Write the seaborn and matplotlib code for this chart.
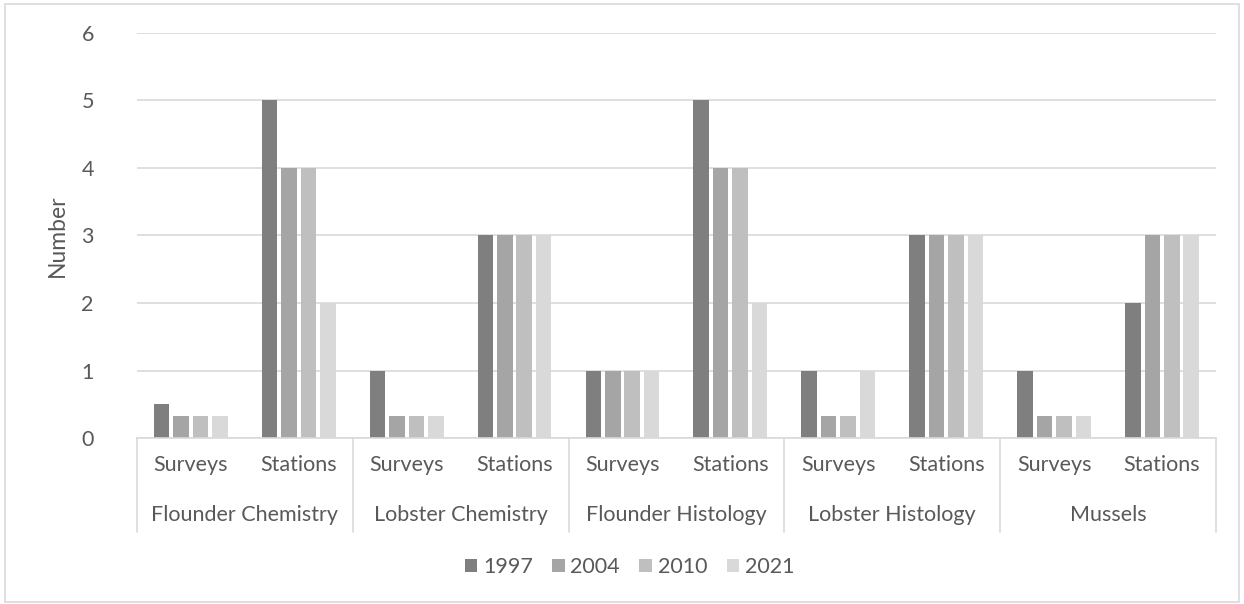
import matplotlib
matplotlib.use("Agg")
import matplotlib.pyplot as plt
import matplotlib.transforms as mtransforms
import seaborn as sns
import pandas as pd

# Monitoring programme groups, each split into surveys and stations
groups = ["Flounder Chemistry", "Lobster Chemistry", "Flounder Histology",
          "Lobster Histology", "Mussels"]
subcats = ["Surveys", "Stations"]
years = ["1997", "2004", "2010", "2021"]

# Values per year, ordered group by group (Surveys, Stations)
v1997 = [0.5, 5, 1, 3, 1, 5, 1, 3, 1, 2]
v2004 = [0.33, 4, 0.33, 3, 1, 4, 0.33, 3, 0.33, 3]
v2010 = [0.33, 4, 0.33, 3, 1, 4, 0.33, 3, 0.33, 3]
v2021 = [0.33, 2, 0.33, 3, 1, 2, 1, 3, 0.33, 3]

colors = ["#7f7f7f", "#a5a5a5", "#bfbfbf", "#d9d9d9"]
text_color = "#595959"
line_color = "#d9d9d9"
fs = 15.5

keys = [f"{g}|{s}" for g in groups for s in subcats]
rows = []
for yr, vals in zip(years, [v1997, v2004, v2010, v2021]):
    for k, v in zip(keys, vals):
        rows.append({"key": k, "Year": yr, "Number": v})
df = pd.DataFrame(rows)

sns.set_theme(style="white")
plt.rcParams["font.family"] = ["Lato", "DejaVu Sans"]

fig = plt.figure(figsize=(12.44, 6.04), dpi=100)
ax = fig.add_axes([0.110, 0.2748, 0.8675, 0.6706])

sns.barplot(data=df, x="key", y="Number", hue="Year", order=keys,
            hue_order=years, palette=colors, width=0.72, gap=0.2,
            saturation=1, ax=ax, linewidth=0, errorbar=None)

# Y axis
ax.set_ylim(0, 6)
ax.set_yticks(range(0, 7))
ax.yaxis.grid(True, color=line_color, linewidth=1.2)
ax.set_axisbelow(True)
ax.tick_params(axis="y", length=0, pad=31, labelsize=fs, labelcolor=text_color)
ax.set_ylabel("Number", fontsize=fs + 1, color=text_color, labelpad=10)

# Category axis: sub-labels as ticks, group labels as text below
ax.set_xlim(-0.5, len(keys) - 0.5)
ax.set_xticks(range(len(keys)))
ax.set_xticklabels([k.split("|")[1] for k in keys])
ax.tick_params(axis="x", length=0, pad=12, labelsize=fs, labelcolor=text_color)
ax.set_xlabel("")

for side in ["left", "right", "top"]:
    ax.spines[side].set_visible(False)
ax.spines["bottom"].set_color(line_color)
ax.spines["bottom"].set_linewidth(1.2)

trans = mtransforms.blended_transform_factory(ax.transData, ax.transAxes)
for i, g in enumerate(groups):
    ax.text(2 * i + 0.5, -0.19, g, transform=trans, ha="center", va="center",
            fontsize=fs, color=text_color)
for b in [-0.5 + 2 * i for i in range(len(groups) + 1)]:
    ax.plot([b, b], [0, -0.232], transform=trans, color=line_color,
            linewidth=1.2, clip_on=False)

# Legend below the chart
handles, labels = ax.get_legend_handles_labels()
ax.legend_.remove()
fig.legend(handles, labels, loc="center", bbox_to_anchor=(0.506, 0.061),
           ncol=4, frameon=False, fontsize=fs, labelcolor=text_color,
           handlelength=0.6, handleheight=0.6, handletextpad=0.25,
           columnspacing=0.9)

# Light chart border
fig.patches.append(plt.Rectangle((0.004, 0.004), 0.992, 0.990,
                                 transform=fig.transFigure, fill=False,
                                 edgecolor=line_color, linewidth=1.2))

fig.savefig("out.png", dpi=100, facecolor="white")
